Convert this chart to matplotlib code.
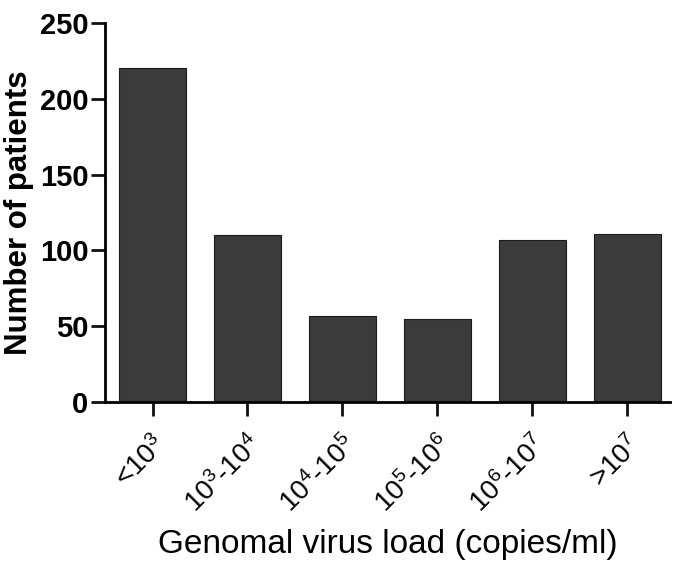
import matplotlib
matplotlib.use("Agg")
import matplotlib.pyplot as plt

categories = [r"<$10^3$", r"$10^3$-$10^4$", r"$10^4$-$10^5$", r"$10^5$-$10^6$", r"$10^6$-$10^7$", r">$10^7$"]
patients = [220, 110, 57, 55, 107, 111]
y_ticks = [0, 50, 100, 150, 200, 250]

plt.rcParams['font.family'] = ['Liberation Sans', 'DejaVu Sans']
plt.rcParams['mathtext.fontset'] = 'custom'
plt.rcParams['mathtext.rm'] = 'Liberation Sans'
plt.rcParams['mathtext.it'] = 'Liberation Sans'
plt.rcParams['mathtext.bf'] = 'Liberation Sans:bold'

fig = plt.figure(figsize=(6.75, 5.61), dpi=100)
ax = fig.add_axes([0.1556, 0.2834, 0.837, 0.6756])

x = list(range(len(categories)))
ax.bar(x, patients, width=0.71, color='#3b3b3b', edgecolor='#1a1a1a', linewidth=0.8)

ax.set_ylim(0, 250)
ax.set_xlim(-0.5, 5.45)
ax.set_yticks(y_ticks)
ax.set_yticklabels([str(v) for v in y_ticks], fontsize=21, fontweight='bold')
ax.set_xticks(x)
ax.set_xticklabels(categories, fontsize=20, rotation=45, ha='right', rotation_mode='anchor')

for s in ['top', 'right']:
    ax.spines[s].set_visible(False)
for s in ['left', 'bottom']:
    ax.spines[s].set_linewidth(2)
ax.tick_params(axis='both', direction='out', length=10, width=2, color='#111111')
ax.tick_params(axis='y', pad=2)
ax.tick_params(axis='x', pad=11)

ax.set_ylabel('Number of patients', fontsize=22.5, fontweight='bold', labelpad=4)
ax.set_xlabel('Genomal virus load (copies/ml)', fontsize=24, labelpad=8)

fig.savefig('out.png', dpi=100)
